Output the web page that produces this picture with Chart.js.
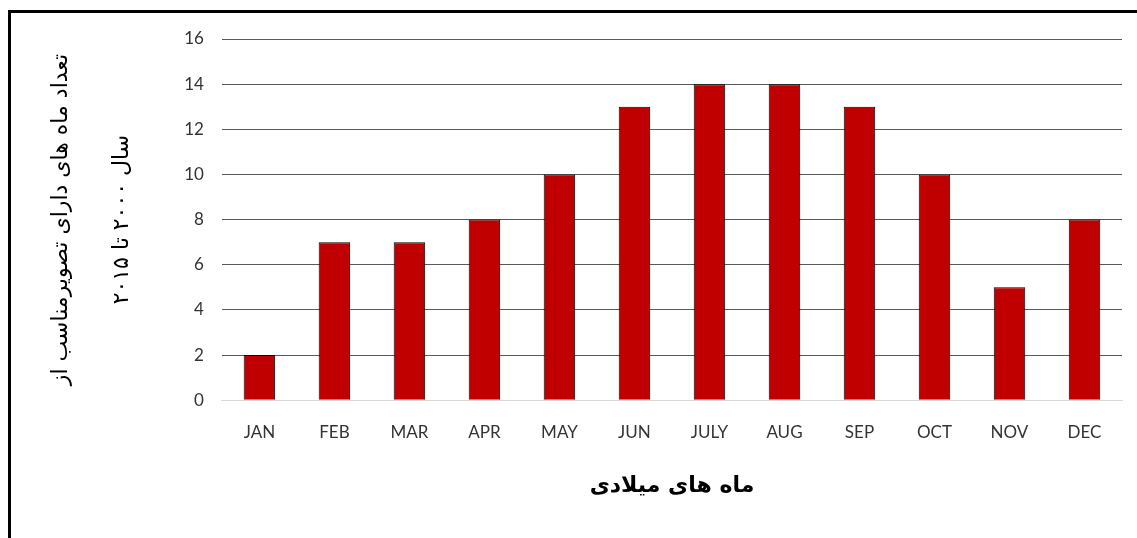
<!DOCTYPE html>
<html>
<head>
<meta charset="utf-8">
<script src="https://cdn.jsdelivr.net/npm/chart.js@4"></script>
<style>
  html, body { margin: 0; padding: 0; background: #fff; overflow: hidden; }
  #frame {
    position: absolute; left: 8px; top: 10px;
    width: 1200px; height: 600px;
    border-top: 3px solid #000; border-left: 3px solid #000;
  }
  #wrap { position: absolute; left: 0; top: 0; width: 1137px; height: 538px; }
</style>
</head>
<body>
<div id="frame"></div>
<div id="wrap"><canvas id="monthChart"></canvas></div>
<script>
const months = ['JAN', 'FEB', 'MAR', 'APR', 'MAY', 'JUN', 'JULY', 'AUG', 'SEP', 'OCT', 'NOV', 'DEC'];
const goodImageCounts = [2, 7, 7, 8, 10, 13, 14, 14, 13, 10, 5, 8];
const yTicks = [0, 2, 4, 6, 8, 10, 12, 14, 16];
const yTitle = ['تعداد ماه های دارای تصویرمناسب از', 'سال ۲۰۰۰ تا ۲۰۱۵'];
const xTitle = 'ماه های میلادی';

const tickFont = { family: 'Lato, "Open Sans", sans-serif', size: 17 };

const ctx = document.getElementById('monthChart').getContext('2d');
new Chart(ctx, {
  type: 'bar',
  data: {
    labels: months,
    datasets: [{
      data: goodImageCounts,
      backgroundColor: '#c00000',
      borderColor: '#000',
      borderWidth: 1,
      barPercentage: 0.42,
      categoryPercentage: 1
    }]
  },
  options: {
    responsive: true,
    maintainAspectRatio: false,
    animation: false,
    layout: { padding: { top: 39, right: 15, bottom: 35, left: 26 } },
    plugins: { legend: { display: false }, tooltip: { enabled: false } },
    scales: {
      x: {
        grid: { display: false },
        border: { color: '#d9d9d9' },
        ticks: { color: '#333', font: tickFont, padding: 14 },
        title: {
          display: true, text: xTitle, color: '#000',
          font: { family: '"DejaVu Sans", sans-serif', size: 22, weight: 'bold' },
          padding: { top: 16 }
        }
      },
      y: {
        min: 0, max: 16,
        afterBuildTicks: axis => { axis.ticks = yTicks.map(v => ({ value: v })); },
        grid: {
          color: c => c.tick.value === 0 ? '#d9d9d9' : '#5a5a5a',
          drawTicks: false
        },
        border: { display: false },
        ticks: { color: '#333', font: tickFont, padding: 18 },
        title: {
          display: true, text: yTitle, color: '#000',
          font: { family: '"DejaVu Sans", sans-serif', size: 22, lineHeight: 2.8 },
          padding: { bottom: 13 }
        }
      }
    }
  }
});
</script>
</body>
</html>
